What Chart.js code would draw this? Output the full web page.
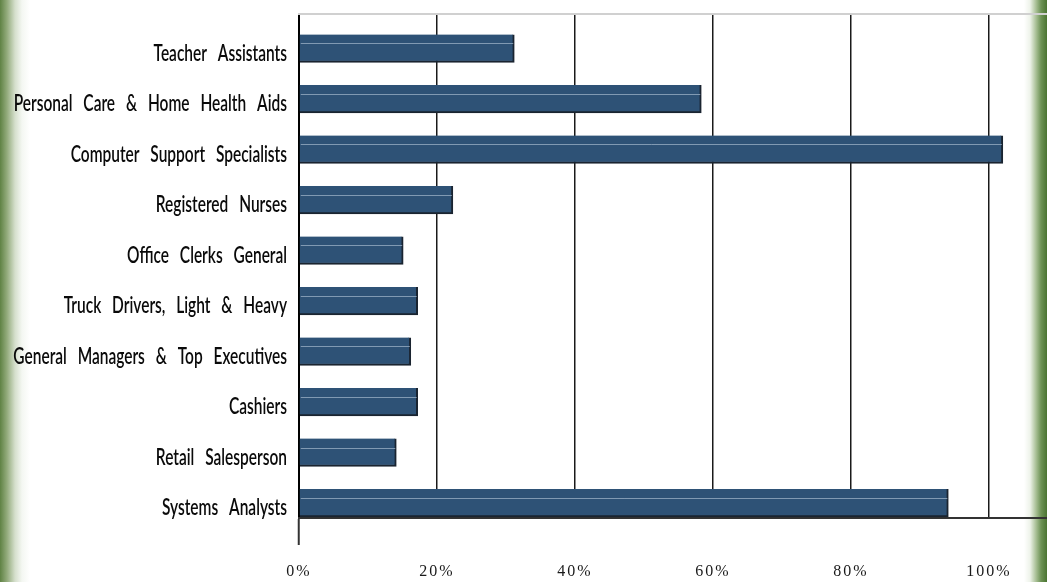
<!DOCTYPE html>
<html>
<head>
<meta charset="utf-8">
<script src="https://cdn.jsdelivr.net/npm/chart.js@4.4.1/dist/chart.umd.min.js"></script>
<style>
  html, body { margin: 0; padding: 0; }
  body {
    width: 1047px; height: 582px; overflow: hidden;
    background: linear-gradient(to right, #5f8244 0px, #93ab7c 7px, #d5dfcc 15px, #f4f7f2 22px, #ffffff 30px, #ffffff 1024px, #eef3ea 1030px, #a9c096 1036px, #6e9356 1041px, #4a7431 1047px);
  }
  #wrap { position: absolute; left: 0; top: 0; width: 1047px; height: 582px; }
</style>
</head>
<body>
<div id="wrap"><canvas id="c" width="1047" height="582"></canvas></div>
<script>
const categories = [
  "Teacher Assistants",
  "Personal Care & Home Health Aids",
  "Computer Support Specialists",
  "Registered Nurses",
  "Office Clerks General",
  "Truck Drivers, Light & Heavy",
  "General Managers & Top Executives",
  "Cashiers",
  "Retail Salesperson",
  "Systems Analysts"
];
const growth = [31.2, 58.3, 102.0, 22.3, 15.1, 17.2, 16.2, 17.2, 14.1, 94.1];
const xTicks = [0, 20, 40, 60, 80, 100];

const Y_FONT = "600 22px Lato, 'Open Sans', sans-serif";
const LABEL_RIGHT = 287;

const barHighlight = {
  id: 'barHighlight',
  afterDatasetsDraw(chart) {
    const ctx = chart.ctx;
    const meta = chart.getDatasetMeta(0);
    ctx.save();
    ctx.strokeStyle = 'rgba(150,172,195,0.8)';
    ctx.lineWidth = 1;
    meta.data.forEach(el => {
      const p = el.getProps(['x', 'y', 'base', 'height'], true);
      const yy = Math.round(p.y - p.height / 2 + 9) + 0.5;
      ctx.beginPath();
      ctx.moveTo(p.base + 1, yy);
      ctx.lineTo(p.x - 1, yy);
      ctx.stroke();
    });
    ctx.restore();
  }
};

const spacing = {
  id: 'spacing',
  afterUpdate(chart) {
    const sx = chart.scales.x;
    if (sx && !sx._wrapped) {
      const orig = sx.drawLabels;
      sx.drawLabels = function (area) {
        const ctx = this.ctx; ctx.save();
        ctx.letterSpacing = '2px';
        orig.call(this, area);
        ctx.restore();
      };
      sx._wrapped = true;
    }
    const sy = chart.scales.y;
    if (sy && !sy._wrapped) {
      const orig = sy.drawLabels;
      sy._computeLabelArea = function () { return undefined; };
      sy.drawLabels = function (area) {
        const ctx = this.ctx;
        ctx.save();
        ctx.font = Y_FONT;
        const w = ctx.measureText('Cashiers').width;
        const k = 58 / w;
        ctx.translate(LABEL_RIGHT, 5);
        ctx.scale(k, 1);
        ctx.translate(-LABEL_RIGHT, 0);
        ctx.wordSpacing = '10px';
        orig.call(this, area);
        ctx.restore();
      };
      sy._wrapped = true;
    }
  }
};

new Chart(document.getElementById('c'), {
  type: 'bar',
  data: {
    datasets: [{
      data: growth.map((v, i) => ({ x: v, y: i })),
      backgroundColor: '#2e5276',
      borderColor: '#1a2430',
      borderWidth: { top: 0, right: 2, bottom: 2, left: 0 },
      borderSkipped: 'start',
      barThickness: 28
    }]
  },
  options: {
    indexAxis: 'y',
    responsive: false,
    animation: false,
    devicePixelRatio: 1,
    layout: { padding: { top: 14, right: 0, left: 0, bottom: 0 } },
    plugins: { legend: { display: false }, tooltip: { enabled: false } },
    scales: {
      y: {
        type: 'linear',
        reverse: true,
        offset: false,
        min: -0.683,
        max: 9.297,
        afterBuildTicks: s => { s.ticks = categories.map((_, i) => ({ value: i })); },
        afterFit: s => { s.width = 299; s.paddingTop = 0; s.paddingBottom = 0; },
        grid: { display: false, drawTicks: false, offset: false },
        border: { display: true, color: '#000', width: 2 },
        ticks: {
          padding: 12,
          color: '#0a0a0a',
          font: { family: "Lato, 'Open Sans', sans-serif", size: 22, weight: '600' },
          callback: v => categories[v]
        }
      },
      x: {
        type: 'linear',
        position: 'bottom',
        min: 0,
        max: 108.4,
        afterBuildTicks: s => { s.ticks = xTicks.map(v => ({ value: v })); },
        afterFit: s => { s.height = 64; s.paddingLeft = 0; s.paddingRight = 0; },
        grid: {
          color: '#1a1a1a',
          lineWidth: 1.5,
          drawTicks: true,
          tickLength: 27,
          tickWidth: 2,
          tickColor: c => (c.index === 0 ? '#333' : 'rgba(0,0,0,0)')
        },
        border: { display: true, color: '#333', width: 2 },
        ticks: {
          padding: 17,
          color: '#1a1a1a',
          maxRotation: 0,
          font: { family: "'Liberation Serif', 'DejaVu Serif', serif", size: 16 },
          callback: v => v + '%'
        }
      },
      x2: {
        type: 'linear',
        position: 'top',
        min: 0,
        max: 108.4,
        afterFit: s => { s.height = 0; s.paddingLeft = 0; s.paddingRight = 0; },
        grid: { display: false, drawTicks: false },
        border: { display: true, color: '#d0d0d0', width: 2 },
        ticks: { display: false }
      }
    }
  },
  plugins: [barHighlight, spacing]
});
</script>
</body>
</html>
